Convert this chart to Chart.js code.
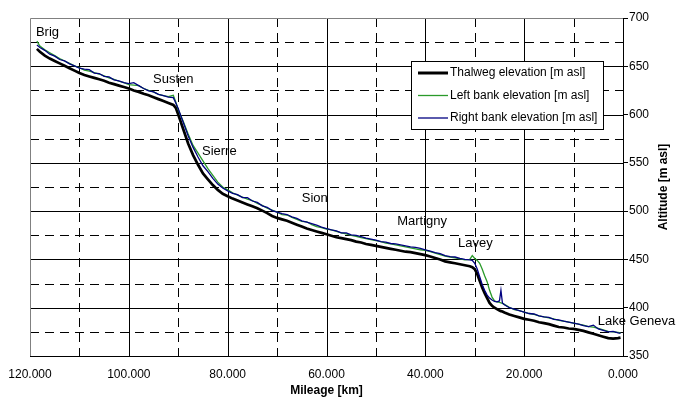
<!DOCTYPE html>
<html><head><meta charset="utf-8">
<script src="https://cdn.jsdelivr.net/npm/chart.js@4.4.1/dist/chart.umd.min.js"></script>
<style>html,body{margin:0;padding:0;background:#fff;}#wrap{width:677px;height:400px;}</style>
</head><body><div id="wrap"><canvas id="c" width="677" height="400"></canvas></div>
<script>
const mileage = [
118.6,118,117,116,115,114,113,112,111,110,
109,108,107,106,105,104,103,102,101,100,
99,98,97,96,95,94,93,92,91,90.5,
90,89,88,87,86,85,84,83,82,81,
80,79,78,77,76,75,74,73,72,71,
70,69,68,67,66,65,64,63,62,61,
60,59,58,57,56,55,54,53,52,51,
50,49,48,47,46,45,44,43,42,41,
40,39,38,37,36,35,34,33,32,31,
30.5,30,29.5,29,28.5,28,27.5,27,26.5,26,
25.5,25,24.7,24.4,24,23,22,21,20,19,
18,17,16,15,14,13,12,11,10,9,
8,7,6,5,4,3,2,1,0.5];
const thalweg = [
668,665,661,658,655.5,653,650.5,648,645.5,643,
641,639.5,638,636.5,635,633,631.5,630,628.5,627,
625,623.5,621.5,620,618,616,614,612,610,607,
600,585,570,558,548,539,533,527,522,518,
515.5,513,511,509,507,505,503,500.5,498,495,
493,491.5,490,488,486,484,482,480.5,479,477.5,
476,474.5,473,472,471,470,468.5,467.5,466,465,
464,463,462,461,460,459,458,457.5,456.5,455.5,
454.5,453,451.5,450,448,447,446,445,444,443,
442,440,435,428,421,415,410,405,402,400,
398.5,397,396.5,396,395,393,391.5,390,388.5,387.5,
386.5,385,384,383,381.5,380,379.5,378.5,378,377,
376,374.5,373,371.5,370,368.5,368,368.5,369];
const leftBank = [
676,671,667,664,661,658,655.5,653,650.5,648.5,
646,645,643.5,642,640,638,636.5,634.5,633,631,
630.5,630,627,625,623.5,621,619.5,618.5,620,613,
605,593,580,568,560,552,544,537,530,525,
522,519,516.5,514.5,512.5,511,508,506,503,501,
499,496.5,496,493.5,491.5,489.5,489,486,484,483,
481.5,480.5,479,477.5,476.5,475,474,472.5,471.5,470.5,
469.5,468.5,467,466,465,464,463,462,461,460,
459.5,458,456.5,455,453.5,452.5,451.5,450.5,449.5,450,
454,451,449,446,440,433,427,418,411,407,
406,405.5,405,404.5,403.5,400.5,398,397,395.5,394,
393,391.5,390.5,389.5,388.5,387,386,385,384,383,
382,380.5,380,378.5,377,375.5,375,374.5,374];
const rightBank = [
672,669.5,666.5,662.5,660.5,657,655.5,652.5,650.5,648,
647,646.5,643,642.5,639.5,639,636,635,633,632,
633,630,627,624.5,623.5,621,619.5,618,617.5,612,
606,592,578,566,556,547,541,534,528,524,
521,518.5,517,514,514,510.5,509,505.5,504,500.5,
499,497.5,496.5,494,492.5,490,488.5,487,485.5,483.5,
482,480.5,479.5,477.5,477.5,475.5,475,473.5,472,471,
470,468.5,468,466.5,466,465,464,463,462.5,461.5,
460,458.5,457,456,454,453,452.5,451,450,449.5,
449,446,440,432,424,418,413,410,408,406.5,
406,407,418,405,403,400,398.5,397,395.5,394,
393.5,391.5,390.5,390,388,387.5,386,385,384,383,
381.5,380.5,382,378,376.5,375,375.5,374,373.5];
const seriesNames = ['Thalweg elevation [m asl]','Left bank elevation [m asl]','Right bank elevation [m asl]'];
const xLabelTicks = [0,20,40,60,80,100,120];
const xGridKm = [10,20,30,40,50,60,70,80,90,100,110];
const yGridAlt = [375,400,425,450,475,500,525,550,575,600,625,650,675];
const places = ['Brig','Susten','Sierre','Sion','Martigny','Lavey','Lake Geneva'];
const placeKm = [118.8,95.1,85.2,65.0,45.7,33.4,5.1];
const placeAlt = [685.5,636.8,561.6,513.6,489.8,467.0,385.5];

const FONT = "'Liberation Sans', Arial, sans-serif";
const pts = arr => mileage.map((k,i)=>({x:k,y:arr[i]}));
const colors = ['#000000','#2a9a2a','#000080'];
const widths = [2.7,1.3,1.3];

const gridPlugin = {
  id:'grid',
  beforeDatasetsDraw(chart){
    const {ctx, chartArea:a, scales:{x,y}} = chart;
    ctx.save();
    ctx.lineWidth = 1;
    yGridAlt.forEach(v=>{
      const py = Math.round(y.getPixelForValue(v))+0.5;
      ctx.beginPath();
      ctx.setLineDash(v%50===0?[]:[9,6]);
      ctx.strokeStyle = '#000';
      ctx.moveTo(a.left, py); ctx.lineTo(a.right, py); ctx.stroke();
    });
    xGridKm.forEach(k=>{
      const px = Math.round(x.getPixelForValue(k))+0.5;
      ctx.beginPath();
      ctx.setLineDash(k%20===0?[]:[9,6]);
      ctx.strokeStyle = '#000';
      ctx.moveTo(px, a.top); ctx.lineTo(px, a.bottom); ctx.stroke();
    });
    ctx.setLineDash([]);
    ctx.strokeStyle = '#808080';
    ctx.beginPath();
    ctx.moveTo(Math.round(a.left)+0.5, a.bottom);
    ctx.lineTo(Math.round(a.left)+0.5, Math.round(a.top)+0.5);
    ctx.lineTo(a.right, Math.round(a.top)+0.5);
    ctx.stroke();
    ctx.restore();
  }
};

const overlayPlugin = {
  id:'overlay',
  afterDraw(chart){
    const {ctx, chartArea:a, scales:{x,y}} = chart;
    ctx.save();
    ctx.fillStyle = '#000';
    ctx.font = '13px ' + FONT;
    ctx.textAlign = 'left'; ctx.textBaseline = 'middle';
    places.forEach((p,i)=>{
      ctx.fillText(p, x.getPixelForValue(placeKm[i]), y.getPixelForValue(placeAlt[i]));
    });
    const lx = 411.5, ly = 61.5, lw = 192, lh = 68;
    ctx.fillStyle = '#fff';
    ctx.fillRect(lx, ly, lw, lh);
    ctx.strokeStyle = '#000'; ctx.lineWidth = 1;
    ctx.strokeRect(lx, ly, lw, lh);
    ctx.font = '12px ' + FONT;
    const rows = [73, 95.5, 118];
    chart.data.datasets.forEach((ds,i)=>{
      ctx.beginPath();
      ctx.strokeStyle = ds.borderColor; ctx.lineWidth = i===0 ? 3 : ds.borderWidth;
      ctx.moveTo(418, rows[i]); ctx.lineTo(448, rows[i]); ctx.stroke();
      ctx.fillStyle = '#000';
      ctx.fillText(ds.label, 450, rows[i]);
    });
    ctx.font = 'bold 12px ' + FONT;
    ctx.textAlign = 'center';
    ctx.fillText('Mileage [km]', (a.left+a.right)/2, 391);
    ctx.translate(664, (a.top+a.bottom)/2);
    ctx.rotate(-Math.PI/2);
    ctx.fillText('Altitude [m asl]', 0, 0);
    ctx.restore();
  }
};

new Chart(document.getElementById('c'), {
  type:'line',
  data:{
    datasets:[
      {label:seriesNames[0], data:pts(thalweg), borderColor:colors[0], borderWidth:widths[0], order:3},
      {label:seriesNames[1], data:pts(leftBank), borderColor:colors[1], borderWidth:widths[1], order:2},
      {label:seriesNames[2], data:pts(rightBank), borderColor:colors[2], borderWidth:widths[2], order:1}
    ]
  },
  options:{
    responsive:false, animation:false, devicePixelRatio:1,
    layout:{padding:{left:30,top:18,right:0,bottom:0}},
    elements:{point:{radius:0}, line:{tension:0, fill:false}},
    plugins:{legend:{display:false}, tooltip:{enabled:false}},
    scales:{
      x:{type:'linear', position:'bottom', min:0, max:120, reverse:true,
         ticks:{stepSize:20, autoSkip:false, maxRotation:0, padding:3, color:'#000',
           font:{family:FONT,size:12},
           callback:v=> xLabelTicks.includes(v) ? v.toFixed(3) : ''},
         grid:{display:false},
         border:{display:true, color:'#000', width:1},
         afterFit:s=>{s.height=44;}},
      y:{type:'linear', position:'right', min:350, max:700,
         ticks:{stepSize:50, padding:1, color:'#000', font:{family:FONT,size:12}},
         grid:{drawOnChartArea:false, drawTicks:true, tickLength:5, color:'#000'},
         border:{display:true, color:'#000', width:1},
         afterFit:s=>{s.width=54;}}
    }
  },
  plugins:[gridPlugin, overlayPlugin]
});
</script></body></html>
